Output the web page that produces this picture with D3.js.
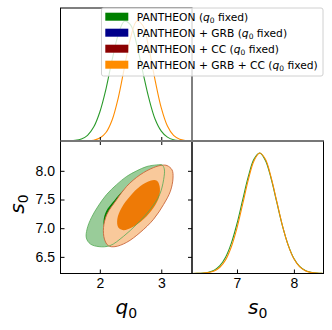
<!DOCTYPE html>
<html lang="en">
<head>
<meta charset="utf-8">
<title>Triangle plot q0 s0</title>
<script src="https://cdn.jsdelivr.net/npm/d3@7"></script>
<style>
  body { margin: 0; background: white; }
  svg { font-family: "DejaVu Sans", sans-serif; display: block; }
  .tick text { font-size: 14px; fill: #000; }
  .tick line { stroke: #000; stroke-width: 1; }
  .axis path.domain { display: none; }
</style>
</head>
<body>
<div id="chart"></div>
<script>

// data

const legendLabels = ["PANTHEON", "PANTHEON + GRB", "PANTHEON + CC", "PANTHEON + GRB + CC"];
const legendColors = ["#008000", "#00008b", "#8b0000", "#ff8c00"];

const q0Ticks = [2, 3];
const s0Ticks = [6.5, 7.0, 7.5, 8.0];
const s0TicksX = [7, 8];

// 1D marginal of q0 (normalised)
const q0Grid = [1.4, 1.5, 1.6, 1.7, 1.8, 1.9, 2.0, 2.1, 2.2, 2.3, 2.4, 2.5, 2.6, 2.7, 2.8, 2.9, 3.0, 3.1, 3.2, 3.3, 3.4, 3.5];
const q0Green = [0.0003, 0.0013, 0.005, 0.017, 0.047, 0.115, 0.24, 0.43, 0.67, 0.88, 0.99, 0.96, 0.80, 0.57, 0.35, 0.18, 0.082, 0.032, 0.010, 0.003, 0.0007, 0.0001];
const q0Orange = [0, 0, 0.0001, 0.0003, 0.0015, 0.0065, 0.024, 0.07, 0.174, 0.357, 0.607, 0.852, 0.991, 0.955, 0.761, 0.502, 0.274, 0.124, 0.046, 0.014, 0.0037, 0.0008];

// 1D marginal of s0
const s0Grid = [6.2, 6.3, 6.4, 6.5, 6.6, 6.7, 6.8, 6.9, 7.0, 7.1, 7.2, 7.3, 7.4, 7.5, 7.6, 7.7, 7.8, 7.9, 8.0, 8.1, 8.2, 8.3, 8.4, 8.5];
const s0Green = [0.0003, 0.0011, 0.0037, 0.0107, 0.028, 0.065, 0.135, 0.25, 0.413, 0.611, 0.806, 0.95, 1.0, 0.939, 0.788, 0.59, 0.394, 0.236, 0.125, 0.06, 0.025, 0.0097, 0.0033, 0.001];
const s0Orange = [0.0002, 0.0007, 0.0025, 0.0077, 0.021, 0.052, 0.113, 0.22, 0.377, 0.575, 0.779, 0.937, 1.0, 0.948, 0.798, 0.596, 0.395, 0.233, 0.122, 0.057, 0.023, 0.0086, 0.0028, 0.0008];

// 2D contours, [q0, s0]
const greenOuter = [[2.929, 8.103], [2.765, 8.075], [2.601, 8.0], [2.437, 7.902], [2.273, 7.759], [2.109, 7.586], [1.973, 7.385], [1.863, 7.184], [1.792, 6.983], [1.781, 6.828], [1.847, 6.724], [1.989, 6.678], [2.164, 6.695], [2.383, 6.856], [2.601, 7.069], [2.820, 7.328], [2.973, 7.586], [3.038, 7.845], [3.049, 8.034], [3.011, 8.103]];
const greenInner = [[2.601, 7.828], [2.383, 7.660], [2.235, 7.483], [2.105, 7.299], [2.060, 7.126], [2.075, 7.030], [2.150, 7.020], [2.437, 7.184], [2.710, 7.443], [2.902, 7.701], [2.929, 7.845], [2.820, 7.902]];
const orangeOuter = [[3.093, 8.092], [3.175, 8.017], [3.191, 7.874], [3.148, 7.644], [3.038, 7.414], [2.874, 7.155], [2.656, 6.925], [2.437, 6.753], [2.246, 6.678], [2.137, 6.695], [2.075, 6.810], [2.060, 7.011], [2.115, 7.241], [2.275, 7.5], [2.437, 7.730], [2.656, 7.931], [2.874, 8.057], [3.011, 8.098]];
const orangeInner = [[2.929, 7.828], [2.973, 7.730], [2.967, 7.557], [2.874, 7.356], [2.710, 7.155], [2.519, 7.011], [2.383, 6.966], [2.301, 7.011], [2.284, 7.155], [2.355, 7.356], [2.492, 7.557], [2.656, 7.730], [2.820, 7.828]];

// layout

const W = 332, H = 330;
const L = 60.5, M = 192, R = 323.5;
const T = 8, MID = 141, B = 273.5;

const svg = d3.select("#chart").append("svg")
  .attr("width", W).attr("height", H)
  .attr("viewBox", [0, 0, W, H]);

const xq = d3.scaleLinear().domain([1.36, 3.5]).range([L, M]);
const ys = d3.scaleLinear().domain([6.21, 8.52]).range([B, MID]);
const xs = d3.scaleLinear().domain([6.21, 8.52]).range([M, R]);
const pTop = d3.scaleLinear().domain([0, 1.1]).range([MID, T]);
const pBot = d3.scaleLinear().domain([0, 1.1]).range([B, MID]);

const defs = svg.append("defs");
function clip(id, x0, y0, x1, y1) {
  defs.append("clipPath").attr("id", id)
    .append("rect").attr("x", x0).attr("y", y0).attr("width", x1 - x0).attr("height", y1 - y0);
}
clip("cTL", L, T, M, MID);
clip("cBL", L, MID, M, B);
clip("cBR", M, MID, R, B);

// 1D curves
function curve1d(g, xScale, yScale, grid, vals, color) {
  const line = d3.line()
    .x((d, i) => xScale(grid[i]))
    .y(d => yScale(d))
    .curve(d3.curveCatmullRom);
  g.append("path").attr("d", line(vals))
    .attr("fill", "none").attr("stroke", color).attr("stroke-width", 1.1);
}

const gTL = svg.append("g").attr("clip-path", "url(#cTL)");
curve1d(gTL, xq, pTop, q0Grid, q0Green, "#2a9a2a");
curve1d(gTL, xq, pTop, q0Grid, q0Orange, "#ff8c00");

const gBR = svg.append("g").attr("clip-path", "url(#cBR)");
curve1d(gBR, xs, pBot, s0Grid, s0Green, "#2a9a2a");
curve1d(gBR, xs, pBot, s0Grid, s0Orange, "#ff8c00");

// 2D contours
const gBL = svg.append("g").attr("clip-path", "url(#cBL)");
const contour = d3.line()
  .x(d => xq(d[0])).y(d => ys(d[1]))
  .curve(d3.curveCatmullRomClosed);

gBL.append("path").attr("d", contour(greenOuter)).attr("fill", "#99cc99");
gBL.append("path").attr("d", contour(greenInner)).attr("fill", "#008000");
gBL.append("path").attr("d", contour(orangeOuter)).attr("fill", "#f9c99b")
  .attr("stroke", "#c8653a").attr("stroke-width", 0.9);
gBL.append("path").attr("d", contour(orangeInner)).attr("fill", "#ee7a06");
gBL.append("path").attr("d", contour(greenOuter)).attr("fill", "none")
  .attr("stroke", "#55aa55").attr("stroke-width", 0.8);

// ticks
function ticks(axis, tr, hideLabels) {
  const g = svg.append("g").attr("class", "axis").attr("transform", tr).call(axis);
  if (hideLabels) g.selectAll("text").remove();
  return g;
}
ticks(d3.axisBottom(xq).tickValues(q0Ticks).tickSize(-4), `translate(0,${MID})`, true);
ticks(d3.axisTop(xq).tickValues(q0Ticks).tickSize(-4), `translate(0,${MID})`, true);
ticks(d3.axisBottom(xq).tickValues(q0Ticks).tickSize(-4).tickPadding(4.5).tickFormat(d3.format("d")), `translate(0,${B})`, false);
ticks(d3.axisLeft(ys).tickValues(s0Ticks).tickSize(-4).tickPadding(5.5).tickFormat(d3.format(".1f")), `translate(${L},0)`, false);
ticks(d3.axisRight(ys).tickValues(s0Ticks).tickSize(-4), `translate(${M},0)`, true);
ticks(d3.axisBottom(xs).tickValues(s0TicksX).tickSize(-4).tickPadding(4.5).tickFormat(d3.format("d")), `translate(0,${B})`, false);

// frames
function frame(x0, y0, x1, y1) {
  svg.append("rect").attr("x", x0).attr("y", y0).attr("width", x1 - x0).attr("height", y1 - y0)
    .attr("fill", "none").attr("stroke", "#000").attr("stroke-width", 1);
}
frame(L, T, M, MID);
frame(L, MID, M, B);
frame(M, MID, R, B);
svg.append("line").attr("x1", L).attr("x2", R).attr("y1", MID).attr("y2", MID)
  .attr("stroke", "#777").attr("stroke-width", 2);

// axis labels
function mathLabel(x, y, sym, rotate) {
  const t = svg.append("text").attr("text-anchor", "middle").attr("font-size", 20)
    .attr("transform", `translate(${x},${y})` + (rotate ? " rotate(-90)" : ""));
  t.append("tspan").attr("font-style", "italic").text(sym);
  t.append("tspan").attr("font-size", 14).attr("dy", 4).text("0");
}
mathLabel((L + M) / 2, 314, "q", false);
mathLabel((M + R) / 2, 314, "s", false);
mathLabel(24, 204, "s", true);

// legend
const lx = 101.5, ly = 8, lw = 221.5, lh = 68, rowH = 16;
const leg = svg.append("g");
leg.append("rect").attr("x", lx).attr("y", ly).attr("width", lw).attr("height", lh)
  .attr("rx", 2).attr("fill", "white").attr("fill-opacity", 0.8)
  .attr("stroke", "#d0d0d0").attr("stroke-width", 1);
legendLabels.forEach((lab, i) => {
  const cy = 16.7 + i * rowH;
  leg.append("rect").attr("x", 105.3).attr("y", cy - 4).attr("width", 23).attr("height", 8)
    .attr("fill", legendColors[i]);
  const t = leg.append("text").attr("x", 136.7).attr("y", cy + 4).attr("font-size", 10.7);
  t.append("tspan").text(lab + " (");
  t.append("tspan").attr("font-style", "italic").text("q");
  t.append("tspan").attr("font-size", 7.5).attr("dy", 2).text("0");
  t.append("tspan").attr("dy", -2).text(" fixed)");
});

</script>
</body>
</html>
